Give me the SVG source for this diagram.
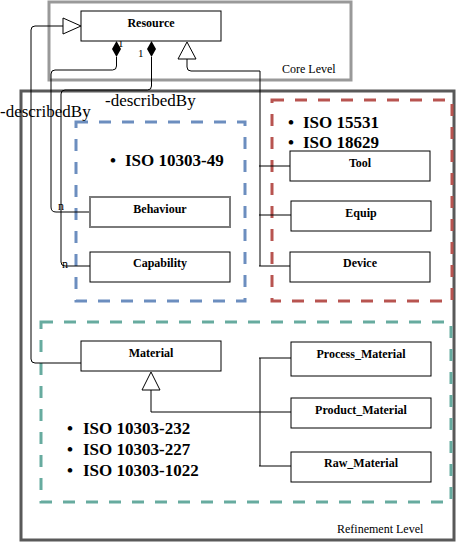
<svg xmlns="http://www.w3.org/2000/svg" width="457" height="543" viewBox="0 0 457 543">
<style>
.node{fill:#fff;stroke:#000;stroke-width:1}
.lbl{font-family:"Liberation Serif",serif;font-weight:bold;font-size:12px;text-anchor:middle;fill:#000}
.iso{font-family:"Liberation Serif",serif;font-weight:bold;font-size:17px;fill:#000}
.cap{font-family:"Liberation Serif",serif;font-size:12px;fill:#000}
.role{font-family:"Liberation Serif",serif;font-size:17px;fill:#000}
.mult{font-family:"Liberation Serif",serif;font-size:11px;fill:#000}
.conn{fill:none;stroke:#000;stroke-width:1}
.dash{fill:none;stroke-width:3;stroke-dasharray:12 11}
.tri{fill:#fff;stroke:#000;stroke-width:1}
</style>
<rect width="457" height="543" fill="#fff"/>
<g id="core-level">
<rect x="49" y="2" width="302" height="78" fill="none" stroke="#999" stroke-width="3"/>
<text class="cap" x="282" y="73">Core Level</text>
</g>
<g id="refinement-level">
<rect x="21" y="91" width="433" height="449" fill="none" stroke="#595959" stroke-width="3"/>
<text class="cap" x="337" y="533">Refinement Level</text>
</g>
<g id="group-blue">
<rect class="dash" x="76" y="122" width="169" height="179" stroke="#6c8ebf"/>
<text class="iso" x="110" y="166">•</text>
<text class="iso" x="125" y="166">ISO 10303-49</text>
</g>
<g id="group-red">
<rect class="dash" x="272" y="100" width="180" height="201" stroke="#b85450"/>
<text class="iso" x="288" y="128">•</text>
<text class="iso" x="303" y="128">ISO 15531</text>
<text class="iso" x="288" y="148">•</text>
<text class="iso" x="303" y="148">ISO 18629</text>
</g>
<g id="group-green">
<rect class="dash" x="41" y="322" width="410" height="180" stroke="#67ab9f"/>
<text class="iso" x="67" y="434">•</text>
<text class="iso" x="83" y="434">ISO 10303-232</text>
<text class="iso" x="67" y="455">•</text>
<text class="iso" x="83" y="455">ISO 10303-227</text>
<text class="iso" x="67" y="476">•</text>
<text class="iso" x="83" y="476">ISO 10303-1022</text>
</g>
<g id="connectors">
<path class="conn" d="M81,363 H35 Q31,363 31,359 V30 Q31,26 35,26 H63"/>
<polygon class="tri" points="63,18 81,26 63,34"/>
<path class="conn" d="M116.5,57 V66 Q116.5,70 112.5,70 H55 Q51,70 51,74 V207 Q51,212 56,212 H90"/>
<polygon points="116.5,41 121,49 116.5,57 112,49" fill="#000"/>
<path class="conn" d="M151.5,57 V86 Q151.5,90 147.5,90 H65 Q61,90 61,94 V262 Q61,266 65,266 H90"/>
<polygon points="151.5,41 156,49 151.5,57 147,49" fill="#000"/>
<text class="mult" x="118" y="47">1</text>
<text class="mult" x="138" y="57">1</text>
<text class="cap" x="58" y="210">n</text>
<text class="cap" x="62" y="268">n</text>
<text class="role" x="105" y="106">-describedBy</text>
<text class="role" x="0" y="117">-describedBy</text>
<path class="conn" d="M187,59 V67 Q187,71 191,71 H260 V266"/>
<polygon class="tri" points="187,42 196,59 178,59"/>
<path class="conn" d="M259,166 H290 M259,215 H291 M259,266 H290"/>
<path class="conn" d="M151,390 V412 H291 M260,358 V466 M259,358 H291 M259,466 H291"/>
<polygon class="tri" points="151,372 160,390 142,390"/>
</g>
<g id="resource"><rect class="node" x="81" y="11" width="140" height="30"/><text class="lbl" x="151" y="27">Resource</text></g>
<g id="behaviour"><rect x="90" y="197" width="140" height="30" fill="#fff" stroke="#7a7a7a" stroke-width="2"/><text class="lbl" x="160" y="213">Behaviour</text></g>
<g id="capability"><rect class="node" x="90" y="252" width="140" height="30"/><text class="lbl" x="160" y="267">Capability</text></g>
<g id="tool"><rect class="node" x="290" y="151" width="140" height="30"/><text class="lbl" x="360" y="167">Tool</text></g>
<g id="equip"><rect class="node" x="291" y="201" width="140" height="30"/><text class="lbl" x="361" y="217">Equip</text></g>
<g id="device"><rect class="node" x="290" y="252" width="140" height="30"/><text class="lbl" x="360" y="267">Device</text></g>
<g id="material"><rect class="node" x="81" y="341" width="140" height="30"/><text class="lbl" x="151" y="357">Material</text></g>
<g id="process-material"><rect class="node" x="291" y="342" width="140" height="34"/><text class="lbl" x="361" y="358">Process_Material</text></g>
<g id="product-material"><rect class="node" x="291" y="398" width="140" height="30"/><text class="lbl" x="361" y="414">Product_Material</text></g>
<g id="raw-material"><rect class="node" x="291" y="452" width="140" height="30"/><text class="lbl" x="361" y="467">Raw_Material</text></g>
</svg>
